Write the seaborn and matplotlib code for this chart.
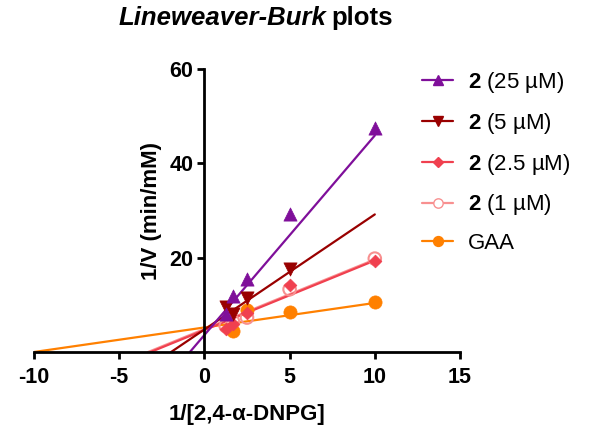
import numpy as np
import pandas as pd
import matplotlib
matplotlib.use("Agg")
import matplotlib.pyplot as plt
import seaborn as sns
from matplotlib.lines import Line2D

sns.set_theme(style="white")
plt.rcParams['font.family'] = ['Liberation Sans', 'DejaVu Sans']
plt.rcParams['mathtext.fontset'] = 'custom'
plt.rcParams['mathtext.rm'] = 'Liberation Sans'
plt.rcParams['mathtext.bf'] = 'Liberation Sans:bold'
plt.rcParams['mathtext.it'] = 'Liberation Sans:italic'
plt.rcParams['axes.unicode_minus'] = False
plt.rcParams['text.color'] = 'black'
plt.rcParams['axes.labelcolor'] = 'black'
plt.rcParams['xtick.color'] = 'black'
plt.rcParams['ytick.color'] = 'black'

# ---- data ----
series = ["2 (25 µM)", "2 (5 µM)", "2 (2.5 µM)", "2 (1 µM)", "GAA"]
legend_labels = [r"$\mathbf{2}$ (25 µM)", r"$\mathbf{2}$ (5 µM)", r"$\mathbf{2}$ (2.5 µM)",
                 r"$\mathbf{2}$ (1 µM)", "GAA"]
x_25 = [1.25, 1.67, 2.5, 5, 10]
y_25 = [8.0, 11.8, 15.4, 29.3, 47.5]
x_5 = [1.25, 1.67, 2.5, 5]
y_5 = [9.5, 8.0, 11.4, 17.5]
x_2p5 = [1.25, 1.67, 2.5, 5, 10]
y_2p5 = [4.8, 6.0, 8.3, 14.3, 19.3]
x_1 = [1.25, 1.67, 2.5, 5, 10]
y_1 = [5.5, 6.5, 7.3, 13.3, 19.8]
x_gaa = [1.67, 2.5, 5, 10]
y_gaa = [4.4, 8.9, 8.4, 10.7]
# linear fits (slope, intercept)
fit_slope = [4.23, 2.44, 1.475, 1.475, 0.52]
fit_intercept = [3.6, 4.77, 4.65, 4.87, 5.2]
fit_xmax = 10

colors = ["#7F0F9A", "#990000", "#F0404F", "#F89090", "#FF8000"]
markers = ["^", "v", "D", "o", "o"]
msizes = [9.5, 9.5, 6.5, 9, 9.5]
filled = [True, True, True, False, True]

xs = [x_25, x_5, x_2p5, x_1, x_gaa]
ys = [y_25, y_5, y_2p5, y_1, y_gaa]

fig = plt.figure(figsize=(5.92, 4.30), dpi=100)
ax = fig.add_axes([34/592, (430-352)/430, (460-34)/592, (352-69)/430])

# fitted lines (from x-intercept to x=10)
for i in range(len(series) - 1, -1, -1):
    x0 = -fit_intercept[i] / fit_slope[i]
    lx = np.array([x0, fit_xmax])
    ly = fit_slope[i] * lx + fit_intercept[i]
    sns.lineplot(x=lx, y=ly, ax=ax, color=colors[i], lw=1.6, zorder=2, legend=False)

# points
for i in range(len(series) - 1, -1, -1):
    df = pd.DataFrame({"x": xs[i], "y": ys[i]})
    if filled[i]:
        sns.scatterplot(data=df, x="x", y="y", ax=ax, marker=markers[i], s=msizes[i]**2,
                        color=colors[i], edgecolor=colors[i], linewidth=0.5, zorder=3, legend=False)
    else:
        sns.scatterplot(data=df, x="x", y="y", ax=ax, marker=markers[i], s=msizes[i]**2,
                        facecolor="none", edgecolor=colors[i], linewidth=1.5, zorder=3, legend=False)

ax.set_xlim(-10, 15)
ax.set_ylim(0, 60)
ax.spines['left'].set_position(('data', 0))
ax.spines['right'].set_visible(False)
ax.spines['top'].set_visible(False)
for s in ['left', 'bottom']:
    ax.spines[s].set_linewidth(2)
    ax.spines[s].set_color('black')
ax.set_xticks([-10, -5, 0, 5, 10, 15])
ax.set_yticks([20, 40, 60])
ax.tick_params(axis='both', direction='out', length=5, width=2, color='black',
               labelsize=15.5, pad=3, left=True, bottom=True)
ax.tick_params(axis='x', pad=6)
for lab in ax.get_xticklabels() + ax.get_yticklabels():
    lab.set_fontweight('bold')
ax.set_xlabel("1/[2,4-α-DNPG]", fontsize=16, fontweight='bold', labelpad=11)
ax.set_ylabel("1/V (min/mM)", fontsize=16, fontweight='bold', labelpad=5)
ax.grid(False)

# title
fig.text(326/592, 1 - 18/430, "Lineweaver-Burk", ha='right', va='center',
         fontsize=18.5, fontweight='bold', fontstyle='italic')
fig.text(331/592, 1 - 18/430, "plots", ha='left', va='center',
         fontsize=18.5, fontweight='bold')

handles = []
for i in range(len(series)):
    handles.append(Line2D([0], [0], color=colors[i], lw=1.6, marker=markers[i],
                          markersize=msizes[i] * 0.75,
                          markerfacecolor=colors[i] if filled[i] else 'white',
                          markeredgecolor=colors[i]))
fig.legend(handles, legend_labels, loc='upper left', bbox_to_anchor=(422/592, 1 - 70/430),
           frameon=False, fontsize=16, handlelength=1.4, labelspacing=0.71,
           handletextpad=0.65, borderaxespad=0, borderpad=0)

fig.savefig("out.png", dpi=100)
